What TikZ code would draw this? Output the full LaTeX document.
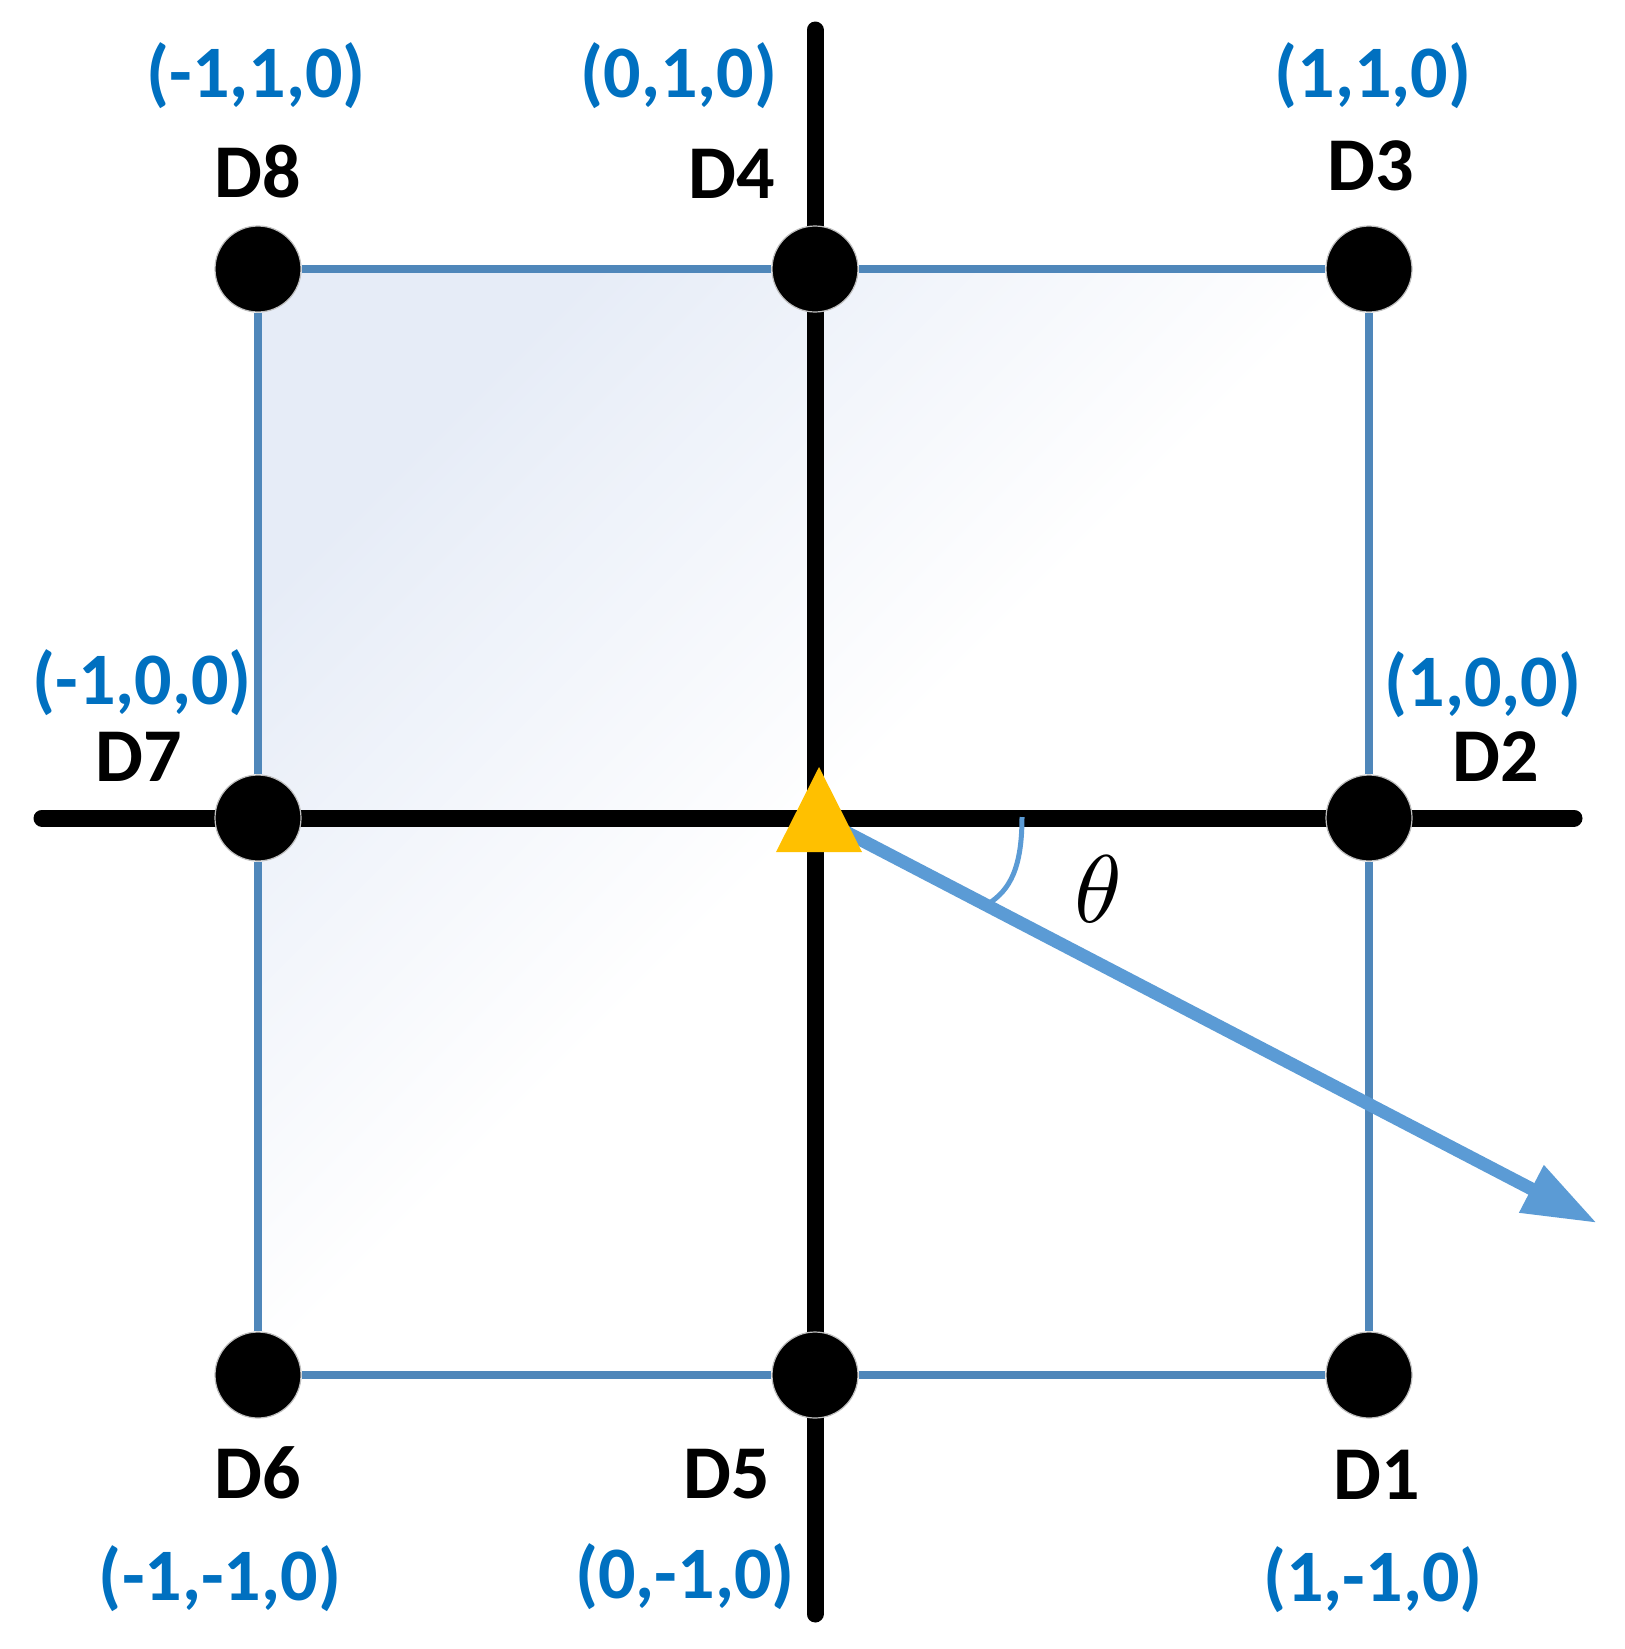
\documentclass[tikz,border=0pt]{standalone}
\usepackage{fontspec}
\newfontfamily\calibfont{Carlito}
\usetikzlibrary{arrows.meta}

\definecolor{edgeblue}{RGB}{79,135,186}
\definecolor{arrowblue}{RGB}{91,155,213}
\definecolor{coordblue}{RGB}{0,112,192}
\definecolor{fillblue}{RGB}{230,236,247}
\definecolor{triorange}{RGB}{255,192,0}

\tikzset{
  dot/.style={circle, fill=black, draw=black!25, line width=0.6pt, minimum size=43pt, inner sep=0pt},
  edge/.style={edgeblue, line width=4pt},
  axis/.style={line width=8.5pt, line cap=round},
  dlabel/.style={font=\calibfont\bfseries\fontsize{38}{40}\selectfont},
  clabel/.style={text=coordblue, font=\calibfont\bfseries\fontsize{37}{40}\selectfont},
}

\begin{document}
\begin{tikzpicture}[x=0.5pt,y=-0.5pt]
\useasboundingbox (0,0) rectangle (1625,1649);

\shade[top color=fillblue, bottom color=white, middle color=white, shading angle=45]
  (260,270) rectangle (1368,1375);

% axes
\coordinate (ytop) at (815,30);
\coordinate (ybot) at (815,1614);
\coordinate (xleft) at (42,818);
\coordinate (xright) at (1574,818);
\draw [axis] (ytop) -- (ybot);
\draw [axis] (xleft) -- (xright);

% detectors
\foreach \n/\x/\y in {1/1369/1375, 2/1369/818, 3/1369/269, 4/815/269,
                      5/815/1375, 6/258/1375, 7/258/818, 8/258/269}
  \node [dot] (D\n) at (\x,\y) {};

\draw [edge] (D8) -- (D4) -- (D3) -- (D2) -- (D1) -- (D5) -- (D6) -- (D7) -- (D8);

% direction
\coordinate (src) at (819,818);
\coordinate (tip) at (1597,1223);
\draw [arrowblue, line width=6.5pt, -{Triangle[length=37pt,width=25pt]}] (src) -- (tip);
\draw [arrowblue, line width=2.5pt] (1022,817) .. controls (1022,868) and (1010,890) .. (988,904);
\node [scale=4.8] (theta) at (1098,889) {$\theta$};

\fill [triorange] (819,767) -- (862,852) -- (776,852) -- cycle;

% labels
\node [clabel] (c8) at (256,76) {(-1,1,0)};
\node [dlabel] (n8) at (258,172) {D8};
\node [clabel] (c4) at (679,76) {(0,1,0)};
\node [dlabel] (n4) at (732,174) {D4};
\node [clabel] (c3) at (1373,76) {(1,1,0)};
\node [dlabel] (n3) at (1371,166) {D3};
\node [clabel] (c7) at (142,683) {(-1,0,0)};
\node [dlabel] (n7) at (139,757) {D7};
\node [clabel] (c2) at (1483,685) {(1,0,0)};
\node [dlabel] (n2) at (1496,757) {D2};
\node [dlabel] (n6) at (258,1473) {D6};
\node [clabel] (c6) at (220,1579) {(-1,-1,0)};
\node [dlabel] (n5) at (727,1474) {D5};
\node [clabel] (c5) at (685,1577) {(0,-1,0)};
\node [dlabel] (n1) at (1377,1475) {D1};
\node [clabel] (c1) at (1373,1580) {(1,-1,0)};

\end{tikzpicture}
\end{document}
